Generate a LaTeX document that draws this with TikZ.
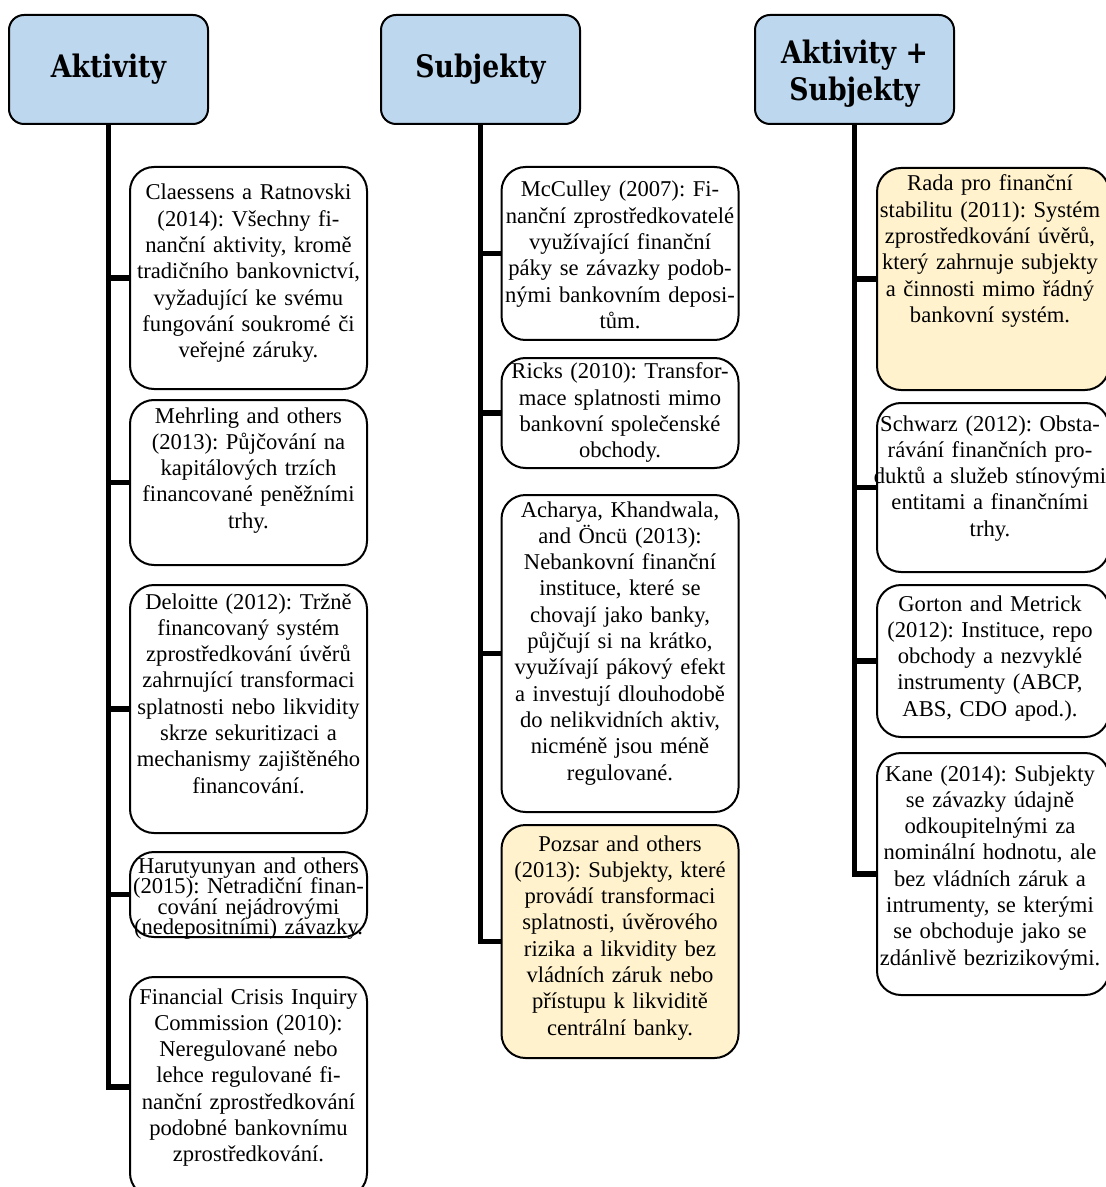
\documentclass[tikz,border=0pt]{standalone}
\usepackage{fontspec}
\setmainfont{Liberation Serif}[Ligatures=NoCommon]
\newfontfamily\headfont{DejaVu Serif}[FakeStretch=0.86]
\usetikzlibrary{backgrounds}
\frenchspacing

\definecolor{headblue}{HTML}{BDD7EE}
\definecolor{noteyellow}{HTML}{FFF2CC}

\newcommand\cardfont{\fontsize{11.3pt}{13.15pt}\selectfont\lineskiplimit=-10pt}
\newcommand\tightfont{\fontsize{11.3pt}{10.3pt}\selectfont\lineskiplimit=-10pt}
\newcommand\headsize{\headfont\bfseries\fontsize{15.5pt}{18.5pt}\selectfont}

\begin{document}
\begin{tikzpicture}[x=0.5pt, y=-0.5pt,
  head/.style={draw=black, line width=1pt, fill=headblue, rounded corners=7.5pt,
    minimum width=99.5pt, minimum height=54.5pt, inner sep=0pt,
    align=center, font=\headsize},
  headtext/.style={align=center, inner sep=0pt, font=\headsize},
  card/.style={draw=black, line width=1pt, fill=white, rounded corners=12pt,
    minimum width=118.5pt, inner sep=0pt},
  narrowcard/.style={card, minimum width=116pt},
  hicard/.style={card, fill=noteyellow},
  note/.style={anchor=base, align=center, text width=125pt, inner sep=0pt, font=\cardfont},
  trunk/.style={line width=2.75pt, black}]

\useasboundingbox (0,0) rectangle (1106,1187);
\clip (0,0) rectangle (1106,1187);

% column headers
\node[head] (h1) at (108.5,69.5) {Aktivity};
\node[head] (h2) at (480.5,69.5) {Subjekty};
\node[head] (h3) at (854.5,69.5) {};
\node[headtext] (h3t) at ([yshift=-2pt]h3.center) {Aktivity +\\Subjekty};

% column 1: activities
\node[card, minimum height=111pt] (a1) at (248.5,278) {};
\node[note] (a1t) at ([yshift=-17pt]a1.north) {Claessens a Ratnovski\\(2014): Všechny fi-\\nanční aktivity, kromě\\tradičního bankovnictví,\\vyžadující ke svému\\fungování soukromé či\\veřejné záruky.};
\node[card, minimum height=82.5pt] (a2) at (248.5,482.5) {};
\node[note] (a2t) at ([yshift=-12pt]a2.north) {Mehrling and others\\(2013): Půjčování na\\kapitálových trzích\\financované peněžními\\trhy.};
\node[card, minimum height=124pt] (a3) at (248.5,709) {};
\node[note] (a3t) at ([yshift=-12.5pt]a3.north) {Deloitte (2012): Tržně\\financovaný systém\\zprostředkování úvěrů\\zahrnující transformaci\\splatnosti nebo likvidity\\skrze sekuritizaci a\\mechanismy zajištěného\\financování.};
\node[card, minimum height=42.5pt] (a4) at (248.5,894.5) {};
\node[note, font=\tightfont] (a4t) at ([yshift=-11pt]a4.north) {Harutyunyan and others\\(2015): Netradiční finan-\\cování nejádrovými\\(nedepositními) závazky.};
\node[card, minimum height=110pt] (a5) at (248.5,1087) {};
\node[note] (a5t) at ([yshift=-14pt]a5.north) {Financial Crisis Inquiry\\Commission (2010):\\Neregulované nebo\\lehce regulované fi-\\nanční zprostředkování\\podobné bankovnímu\\zprostředkování.};

% column 2: entities
\node[card, minimum height=86.5pt] (b1) at (620,253.5) {};
\node[note] (b1t) at ([yshift=-15.5pt]b1.north) {McCulley (2007): Fi-\\nanční zprostředkovatelé\\využívající finanční\\páky se závazky podob-\\nými bankovním deposi-\\tům.};
\node[card, minimum height=55pt] (b2) at (620,413) {};
\node[note] (b2t) at ([yshift=-11pt]b2.north) {Ricks (2010): Transfor-\\mace splatnosti mimo\\bankovní společenské\\obchody.};
\node[card, minimum height=158.5pt] (b3) at (620,653.5) {};
\node[note] (b3t) at ([yshift=-11.5pt]b3.north) {Acharya, Khandwala,\\and Öncü (2013):\\Nebankovní finanční\\instituce, které se\\chovají jako banky,\\půjčují si na krátko,\\využívají pákový efekt\\a investují dlouhodobě\\do nelikvidních aktiv,\\nicméně jsou méně\\regulované.};
\node[hicard, minimum height=116.5pt] (b4) at (620,941.5) {};
\node[note] (b4t) at ([yshift=-13.5pt]b4.north) {Pozsar and others\\(2013): Subjekty, které\\provádí transformaci\\splatnosti, úvěrového\\rizika a likvidity bez\\vládních záruk nebo\\přístupu k likviditě\\centrální banky.};

% column 3: activities and entities
\node[narrowcard, fill=noteyellow, minimum height=111pt] (c1) at (993,279) {};
\node[note] (c1t) at ([xshift=-1.5pt,yshift=-12pt]c1.north) {Rada pro finanční\\stabilitu (2011): Systém\\zprostředkování úvěrů,\\který zahrnuje subjekty\\a činnosti mimo řádný\\bankovní systém.};
\node[narrowcard, minimum height=84.5pt] (c2) at (993,487.5) {};
\node[note] (c2t) at ([xshift=-1.5pt,yshift=-14.5pt]c2.north) {Schwarz (2012): Obsta-\\rávání finančních pro-\\duktů a služeb stínovými\\entitami a finančními\\trhy.};
\node[narrowcard, minimum height=76pt] (c3) at (993,661) {};
\node[note] (c3t) at ([xshift=-1.5pt,yshift=-13.5pt]c3.north) {Gorton and Metrick\\(2012): Instituce, repo\\obchody a nezvyklé\\instrumenty (ABCP,\\ABS, CDO apod.).};
\node[narrowcard, minimum height=121pt] (c4) at (993,874) {};
\node[note] (c4t) at ([xshift=-1.5pt,yshift=-14.5pt]c4.north) {Kane (2014): Subjekty\\se závazky údajně\\odkoupitelnými za\\nominální hodnotu, ale\\bez vládních záruk a\\intrumenty, se kterými\\se obchoduje jako se\\zdánlivě bezrizikovými.};

% white page, then trunks and branches, all behind the boxes
\begin{scope}[on background layer]
  \fill[white] (0,0) rectangle (1106,1187);
  \draw[trunk] (h1.south) |- (a5.west);
  \foreach \n in {a1,a2,a3,a4} \draw[trunk] (\n.west) -- (\n.west -| h1.south);
  \draw[trunk] (h2.south) |- (b4.west);
  \foreach \n in {b1,b2,b3} \draw[trunk] (\n.west) -- (\n.west -| h2.south);
  \draw[trunk] (h3.south) |- (c4.west);
  \foreach \n in {c1,c2,c3} \draw[trunk] (\n.west) -- (\n.west -| h3.south);
\end{scope}
\end{tikzpicture}
\end{document}
